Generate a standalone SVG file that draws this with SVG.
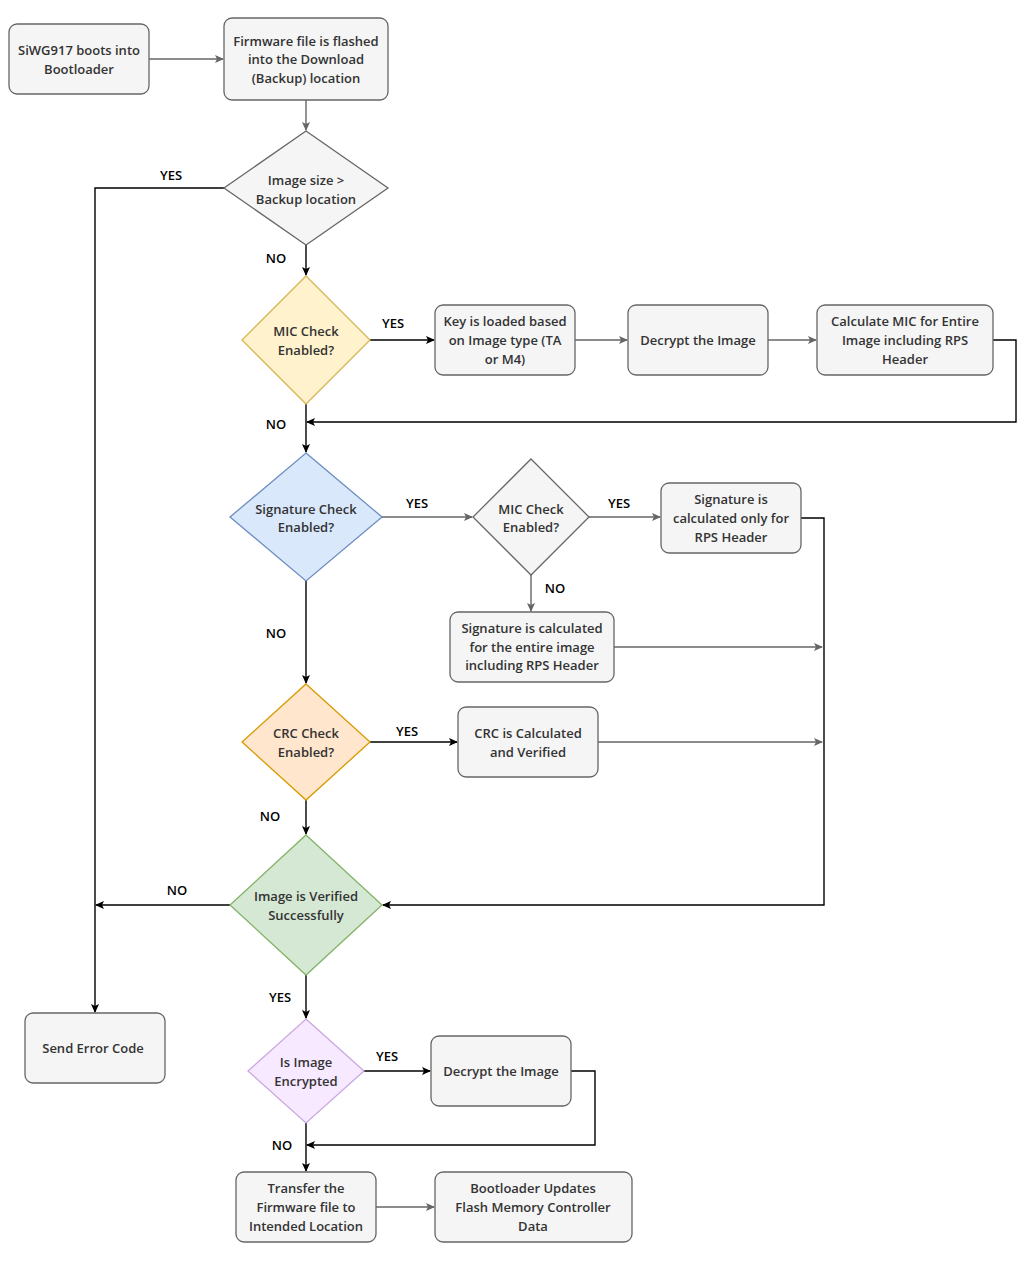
<svg xmlns="http://www.w3.org/2000/svg" width="1028" height="1268" viewBox="0 0 1028 1268">
<style>
.b{fill:#f5f5f5;stroke:#666;stroke-width:1.3}
text{font-family:"Open Sans","DejaVu Sans",sans-serif;font-size:13px;font-weight:600;fill:#333;text-anchor:middle}
.l{fill:#000}
.k{fill:none;stroke:#000;stroke-width:1.4}
.g{fill:none;stroke:#666;stroke-width:1.4}
</style>
<defs>
<marker id="ak" markerWidth="10" markerHeight="10" refX="8" refY="5" orient="auto" markerUnits="userSpaceOnUse"><path d="M0,1 L9,5 L0,9 L2,5z" fill="#000"/></marker>
<marker id="ag" markerWidth="10" markerHeight="10" refX="8" refY="5" orient="auto" markerUnits="userSpaceOnUse"><path d="M0,1 L9,5 L0,9 L2,5z" fill="#666"/></marker>
</defs>
<rect width="1028" height="1268" fill="#fff"/>
<g id="connectors">
<path class="g" marker-end="url(#ag)" d="M149,59H223"/>
<path class="g" marker-end="url(#ag)" d="M306,100V130"/>
<path class="k" marker-end="url(#ak)" d="M224,188H95V1012"/>
<path class="k" marker-end="url(#ak)" d="M306,245V275"/>
<path class="k" marker-end="url(#ak)" d="M370,340H434"/>
<path class="g" marker-end="url(#ag)" d="M575,340H627"/>
<path class="g" marker-end="url(#ag)" d="M768,340H816"/>
<path class="k" marker-end="url(#ak)" d="M993,340H1016V422H307"/>
<path class="k" marker-end="url(#ak)" d="M306,404V452"/>
<path class="g" marker-end="url(#ag)" d="M382,517H472"/>
<path class="g" marker-end="url(#ag)" d="M589,517H660"/>
<path class="g" marker-end="url(#ag)" d="M531,575V611"/>
<path class="k" marker-end="url(#ak)" d="M801,518H824V905H383"/>
<path class="g" marker-end="url(#ag)" d="M614,647H822"/>
<path class="k" marker-end="url(#ak)" d="M306,581V683"/>
<path class="k" marker-end="url(#ak)" d="M370,742H457"/>
<path class="g" marker-end="url(#ag)" d="M598,742H822"/>
<path class="k" marker-end="url(#ak)" d="M306,800V834"/>
<path class="k" marker-end="url(#ak)" d="M230,905H96"/>
<path class="k" marker-end="url(#ak)" d="M306,975V1018"/>
<path class="k" marker-end="url(#ak)" d="M364,1071H430"/>
<path class="k" marker-end="url(#ak)" d="M571,1071H595V1145H307"/>
<path class="k" marker-end="url(#ak)" d="M306,1123V1171"/>
<path class="g" marker-end="url(#ag)" d="M376,1207H434"/>
<text class="l" x="171" y="180">YES</text>
<text class="l" x="276" y="263">NO</text>
<text class="l" x="393" y="328">YES</text>
<text class="l" x="276" y="429">NO</text>
<text class="l" x="417" y="508">YES</text>
<text class="l" x="619" y="508">YES</text>
<text class="l" x="555" y="593">NO</text>
<text class="l" x="276" y="638">NO</text>
<text class="l" x="407" y="736">YES</text>
<text class="l" x="270" y="821">NO</text>
<text class="l" x="177" y="895">NO</text>
<text class="l" x="280" y="1002">YES</text>
<text class="l" x="387" y="1061">YES</text>
<text class="l" x="282" y="1150">NO</text>
</g>
<g id="n1"><rect class="b" x="9" y="24" width="140" height="70" rx="8"/><text x="79" y="55">SiWG917 boots into</text><text x="79" y="74">Bootloader</text></g>
<g id="n2"><rect class="b" x="224" y="18" width="164" height="82" rx="8"/><text x="306" y="46">Firmware file is flashed</text><text x="306" y="64">into the Download</text><text x="306" y="83">(Backup) location</text></g>
<g id="d1"><polygon class="b" points="306,131 388,188 306,245 224,188"/><text x="306" y="185">Image size &gt;</text><text x="306" y="204">Backup location</text></g>
<g id="d2"><polygon points="306,276 370,340 306,404 242,340" fill="#fff2cc" stroke="#d6b656" stroke-width="1.3"/><text x="306" y="336">MIC Check</text><text x="306" y="355">Enabled?</text></g>
<g id="key"><rect class="b" x="435" y="305" width="140" height="70" rx="8"/><text x="505" y="326">Key is loaded based</text><text x="505" y="345">on Image type (TA</text><text x="505" y="364">or M4)</text></g>
<g id="dec1"><rect class="b" x="628" y="305" width="140" height="70" rx="8"/><text x="698" y="345">Decrypt the Image</text></g>
<g id="calc"><rect class="b" x="817" y="305" width="176" height="70" rx="8"/><text x="905" y="326">Calculate MIC for Entire</text><text x="905" y="345">Image including RPS</text><text x="905" y="364">Header</text></g>
<g id="d3"><polygon points="306,453 382,517 306,581 230,517" fill="#dae8fc" stroke="#6c8ebf" stroke-width="1.3"/><text x="306" y="514">Signature Check</text><text x="306" y="532">Enabled?</text></g>
<g id="d4"><polygon class="b" points="531,459 589,517 531,575 473,517"/><text x="531" y="514">MIC Check</text><text x="531" y="532">Enabled?</text></g>
<g id="sigrps"><rect class="b" x="661" y="483" width="140" height="70" rx="8"/><text x="731" y="504">Signature is</text><text x="731" y="523">calculated only for</text><text x="731" y="542">RPS Header</text></g>
<g id="sigall"><rect class="b" x="450" y="612" width="164" height="70" rx="8"/><text x="532" y="633">Signature is  calculated</text><text x="532" y="652">for the entire image</text><text x="532" y="670">including RPS  Header</text></g>
<g id="d5"><polygon points="306,684 370,742 306,800 242,742" fill="#ffe6cc" stroke="#d79b00" stroke-width="1.3"/><text x="306" y="738">CRC Check</text><text x="306" y="757">Enabled?</text></g>
<g id="crc"><rect class="b" x="458" y="707" width="140" height="70" rx="8"/><text x="528" y="738">CRC is Calculated</text><text x="528" y="757">and Verified</text></g>
<g id="d6"><polygon points="306,835 382,905 306,975 230,905" fill="#d5e8d4" stroke="#82b366" stroke-width="1.3"/><text x="306" y="901">Image is Verified</text><text x="306" y="920">Successfully</text></g>
<g id="err"><rect class="b" x="25" y="1013" width="140" height="70" rx="8"/><text x="93" y="1053">Send Error Code</text></g>
<g id="d7"><polygon points="306,1019 364,1071 306,1123 248,1071" fill="#f7e9ff" stroke="#c9a7e0" stroke-width="1.3"/><text x="306" y="1067">Is Image</text><text x="306" y="1086">Encrypted</text></g>
<g id="dec2"><rect class="b" x="431" y="1036" width="140" height="70" rx="8"/><text x="501" y="1076">Decrypt the Image</text></g>
<g id="transfer"><rect class="b" x="236" y="1172" width="140" height="70" rx="8"/><text x="306" y="1193">Transfer the</text><text x="306" y="1212">Firmware file to</text><text x="306" y="1231">Intended Location</text></g>
<g id="update"><rect class="b" x="435" y="1172" width="197" height="70" rx="8"/><text x="533" y="1193">Bootloader Updates</text><text x="533" y="1212">Flash Memory Controller</text><text x="533" y="1231">Data</text></g>
</svg>
